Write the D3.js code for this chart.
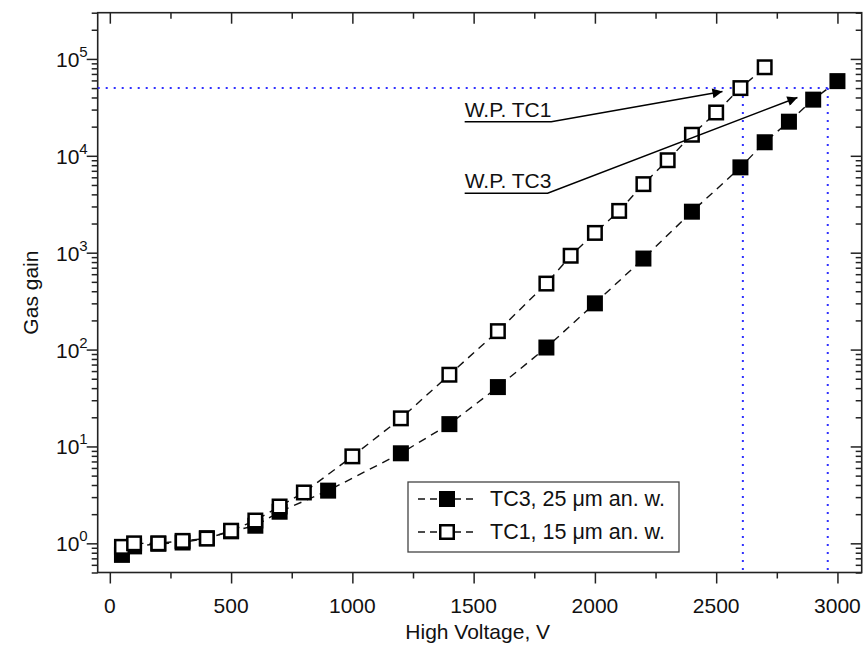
<!DOCTYPE html>
<html><head><meta charset="utf-8">
<script src="https://cdn.jsdelivr.net/npm/d3@7"></script>
<style>
html,body{margin:0;padding:0;background:#fff;}
svg{display:block;font-family:"Liberation Sans",Arial,sans-serif;}
</style></head>
<body>
<svg id="chart" width="865" height="646"></svg>
<script>
// ---- data ----
const tc3Voltage = [50,100,200,300,400,500,600,700,900,1200,1400,1600,1800,2000,2200,2400,2600,2700,2800,2900,3000];
const tc3Gain    = [0.76,0.93,0.99,1.02,1.13,1.33,1.52,2.12,3.5,8.5,17,41,105,300,870,2650,7600,13800,22500,38000,59000];
const tc1Voltage = [50,100,200,300,400,500,600,700,800,1000,1200,1400,1600,1800,1900,2000,2100,2200,2300,2400,2500,2600,2700];
const tc1Gain    = [0.92,1.0,1.0,1.06,1.12,1.35,1.72,2.4,3.35,7.9,19.5,55,155,480,930,1600,2700,5100,9000,16500,28000,50000,82000];
const xTicks = [0,500,1000,1500,2000,2500,3000];
const yTickExps = [0,1,2,3,4,5];
const legendLabels = ["TC3, 25 \u03bcm an. w.", "TC1, 15 \u03bcm an. w."];
const workingGain = 5e4;
const workingVoltages = [2610, 2960];
const annotations = [
  {text:"W.P. TC1", x0:1463, x1:1820, y:22500, tipX:2526, tipY:46000},
  {text:"W.P. TC3", x0:1463, x1:1805, y:4100,  tipX:2835, tipY:40000}
];
const xTitle = "High Voltage, V";
const yTitle = "Gas gain";

// ---- layout ----
const L = 97.7, R = 861.7, T = 12.7, B = 572.5;
const svg = d3.select("#chart");
const x = d3.scaleLinear().domain([-50,3100]).range([L,R]);
const y = d3.scaleLog().domain([0.5,3e5]).range([B,T]);
const axisColor = "#222";
const fs = 21;

const xMinor = d3.range(250,3100,500);
const yMinor = [];
for (let e=-1;e<=5;e++) for (let m=2;m<=9;m++){const v=m*Math.pow(10,e); if(v>=0.5&&v<=3e5) yMinor.push(v);}
const yMajor = yTickExps.map(e=>Math.pow(10,e));

function styleAxis(g){ g.select(".domain").remove(); g.selectAll("line").attr("stroke",axisColor).attr("stroke-width",1.5); g.selectAll("text").remove(); }

svg.append("g").attr("transform",`translate(0,${B})`).call(d3.axisBottom(x).tickValues(xTicks).tickSize(11)).call(styleAxis);
svg.append("g").attr("transform",`translate(0,${B})`).call(d3.axisBottom(x).tickValues(xMinor).tickSize(6)).call(styleAxis);
svg.append("g").attr("transform",`translate(0,${T})`).call(d3.axisBottom(x).tickValues(xTicks).tickSize(11)).call(styleAxis);
svg.append("g").attr("transform",`translate(0,${T})`).call(d3.axisBottom(x).tickValues(xMinor).tickSize(6)).call(styleAxis);
svg.append("g").attr("transform",`translate(${L},0)`).call(d3.axisLeft(y).tickValues(yMajor).tickSize(11)).call(styleAxis);
svg.append("g").attr("transform",`translate(${L},0)`).call(d3.axisLeft(y).tickValues(yMinor).tickSize(6)).call(styleAxis);
svg.append("g").attr("transform",`translate(${R},0)`).call(d3.axisLeft(y).tickValues(yMajor).tickSize(11)).call(styleAxis);
svg.append("g").attr("transform",`translate(${R},0)`).call(d3.axisLeft(y).tickValues(yMinor).tickSize(6)).call(styleAxis);

svg.append("rect").attr("x",L).attr("y",T).attr("width",R-L).attr("height",B-T)
  .attr("fill","none").attr("stroke",axisColor).attr("stroke-width",1.6);

svg.append("g").selectAll("text").data(xTicks).join("text")
  .attr("x",d=>x(d)).attr("y",B+40).attr("text-anchor","middle")
  .attr("font-size",fs).attr("fill","#111").text(d=>d);
const yl = svg.append("g").selectAll("text").data(yTickExps).join("text")
  .attr("x",L-10).attr("y",d=>y(Math.pow(10,d))+8).attr("text-anchor","end")
  .attr("font-size",fs).attr("fill","#111");
yl.append("tspan").text("10");
yl.append("tspan").attr("dy",-10).attr("font-size",15).text(d=>d);

svg.append("text").attr("x",(L+R)/2-2).attr("y",639).attr("text-anchor","middle")
  .attr("font-size",fs).attr("fill","#111").text(xTitle);
svg.append("text").attr("transform",`translate(38,${(T+B)/2}) rotate(-90)`).attr("text-anchor","middle")
  .attr("font-size",fs).attr("fill","#111").text(yTitle);

const blue = "#3030ff";
svg.append("line").attr("x1",L).attr("x2",x(workingVoltages[1])).attr("y1",y(workingGain)).attr("y2",y(workingGain))
  .attr("stroke",blue).attr("stroke-width",2).attr("stroke-dasharray","2,6");
svg.append("g").selectAll("line").data(workingVoltages).join("line")
  .attr("x1",d=>x(d)).attr("x2",d=>x(d)).attr("y1",y(workingGain)).attr("y2",B)
  .attr("stroke",blue).attr("stroke-width",2).attr("stroke-dasharray","2,6");

const line = d3.line().x(d=>x(d[0])).y(d=>y(d[1]));
const tc3 = tc3Voltage.map((v,i)=>[v,tc3Gain[i]]);
const tc1 = tc1Voltage.map((v,i)=>[v,tc1Gain[i]]);
[tc3,tc1].forEach(s=>{
  svg.append("path").datum(s).attr("d",line).attr("fill","none")
    .attr("stroke","#111").attr("stroke-width",1.4).attr("stroke-dasharray","8,6");
});

const ms = 16;
svg.append("g").selectAll("rect").data(tc3).join("rect")
  .attr("x",d=>x(d[0])-ms/2).attr("y",d=>y(d[1])-ms/2).attr("width",ms).attr("height",ms).attr("fill","#000");
svg.append("g").selectAll("rect").data(tc1).join("rect")
  .attr("x",d=>x(d[0])-ms/2+1.25).attr("y",d=>y(d[1])-ms/2+1.25).attr("width",ms-2.5).attr("height",ms-2.5)
  .attr("fill","#fff").attr("stroke","#000").attr("stroke-width",2.5);

svg.append("defs").append("marker").attr("id","ah").attr("viewBox","0 0 10 10")
  .attr("refX",10).attr("refY",5).attr("markerWidth",14).attr("markerHeight",10)
  .attr("markerUnits","userSpaceOnUse").attr("orient","auto")
  .append("path").attr("d","M0,0 L10,5 L0,10 Z").attr("fill","#000");
annotations.forEach(a=>{
  svg.append("text").attr("x",x(a.x0)).attr("y",y(a.y)-5).attr("font-size",fs).attr("fill","#111").text(a.text);
  svg.append("polyline").attr("points",`${x(a.x0)},${y(a.y)} ${x(a.x1)},${y(a.y)} ${x(a.tipX)},${y(a.tipY)}`)
    .attr("fill","none").attr("stroke","#000").attr("stroke-width",1.5).attr("marker-end","url(#ah)");
});

const lg = svg.append("g");
lg.append("rect").attr("x",408).attr("y",482).attr("width",271).attr("height",70)
  .attr("fill","#fff").attr("stroke","#444").attr("stroke-width",1.3);
legendLabels.forEach((lab,i)=>{
  const cy = 499 + i*33;
  lg.append("line").attr("x1",418).attr("x2",478).attr("y1",cy).attr("y2",cy)
    .attr("stroke","#111").attr("stroke-width",1.4).attr("stroke-dasharray","7,5");
  if(i===0) lg.append("rect").attr("x",447-ms/2).attr("y",cy-ms/2).attr("width",ms).attr("height",ms).attr("fill","#000");
  else lg.append("rect").attr("x",447-ms/2+1.25).attr("y",cy-ms/2+1.25).attr("width",ms-2.5).attr("height",ms-2.5)
    .attr("fill","#fff").attr("stroke","#000").attr("stroke-width",2.5);
  lg.append("text").attr("x",490).attr("y",cy+7).attr("font-size",21.5).attr("fill","#111").text(lab);
});
</script>
</body></html>
